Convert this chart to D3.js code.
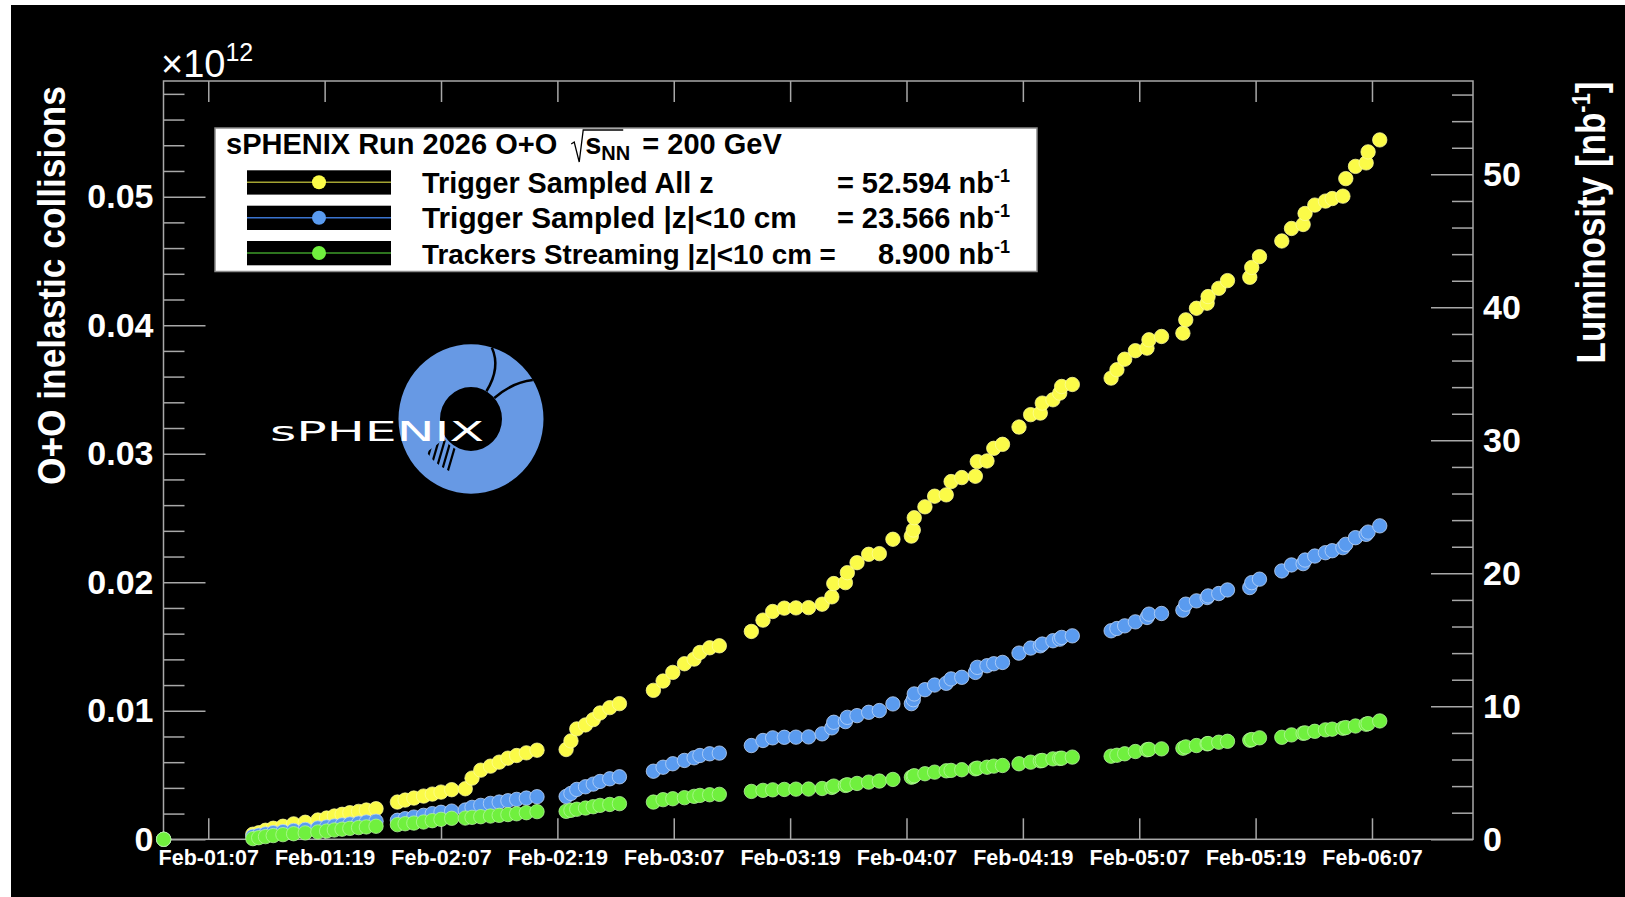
<!DOCTYPE html>
<meta charset="utf-8">
<script src="https://cdn.jsdelivr.net/npm/d3@7"></script>
<style>
  body { margin: 0; background: #fff; }
  svg text { font-family: "Liberation Sans", Arial, Helvetica, sans-serif; font-weight: bold; fill: #fff; }
</style>
<div id="vis"></div>
<script type="text/javascript">

// hours since 2026-02-01 00:00 (UTC), one entry per point, shared by all three series
var hours = [2.4,
  11.6, 12.2, 12.9, 13.7, 14.7, 15.8, 17.0,
  18.3, 19.2, 20.0, 20.8, 21.6, 22.5, 23.3, 24.3,
  26.5, 27.3, 28.2, 29.2, 30.1, 31.0, 32.1,
  33.5, 34.2, 35.1, 36.1, 37.0, 37.9, 38.8, 39.8, 40.9,
  43.9, 44.4, 45.0, 45.9, 46.7, 47.4, 48.4, 49.4,
  52.9, 53.9, 54.9, 56.1, 57.1, 57.7, 58.7, 59.7,
  63.0, 64.2, 65.2, 66.4, 67.6, 68.9, 70.3, 71.3, 71.5, 72.7, 72.9, 73.9, 75.1, 76.2, 77.6,
  79.5, 79.7, 79.8, 80.9, 81.9, 83.1, 83.6, 84.7, 86.1, 86.3, 87.3, 88.0, 88.9,
  90.6, 91.8, 92.8, 93.0, 94.1, 94.8, 95.0, 96.1,
  100.1, 100.7, 101.5, 102.6, 103.8, 104.0, 105.3,
  107.5, 107.8, 108.9, 110.0, 110.1, 111.2, 112.1,
  114.4, 114.6, 115.4,
  117.7, 118.7, 119.9, 120.1, 121.1, 122.2, 122.9, 124.0, 124.3, 125.3, 126.4, 126.6, 127.8];

// integrated luminosity [nb^-1]
var lumiAllZ = [0,
  0.38, 0.49, 0.68, 0.83, 0.98, 1.16, 1.28,
  1.45, 1.6, 1.75, 1.88, 2.0, 2.1, 2.2, 2.3,
  2.8, 2.95, 3.1, 3.25, 3.4, 3.55, 3.73,
  3.8, 4.6, 5.2, 5.5, 5.8, 6.1, 6.3, 6.5, 6.7,
  6.75, 7.4, 8.3, 8.6, 9.0, 9.5, 9.9, 10.2,
  11.2, 11.9, 12.55, 13.2, 13.55, 14.05, 14.4, 14.55,
  15.63, 16.48, 17.13, 17.38, 17.4, 17.42, 17.68, 18.23, 19.23, 19.3, 20.05, 20.8, 21.43, 21.48, 22.56,
  22.8, 23.26, 24.18, 25.0, 25.8, 25.9, 26.9, 27.2, 27.3, 28.4, 28.45, 29.4, 29.7,
  31.0, 31.93, 32.05, 32.8, 33.05, 33.55, 34.05, 34.2,
  34.68, 35.31, 36.1, 36.74, 36.93, 37.56, 37.81,
  38.06, 39.06, 39.93, 40.31, 40.81, 41.43, 42.01,
  42.26, 43.0, 43.81,
  44.99, 45.93, 46.23, 47.06, 47.69, 47.99, 48.18, 48.36, 49.68, 50.6, 50.86, 51.69, 52.59];

var lumiZ10 = [0,
  0.22, 0.3, 0.4, 0.5, 0.58, 0.66, 0.74,
  0.85, 0.93, 1.0, 1.08, 1.15, 1.22, 1.3, 1.36,
  1.43, 1.55, 1.67, 1.8, 1.93, 2.03, 2.12,
  2.2, 2.4, 2.55, 2.7, 2.8, 2.9, 3.0, 3.1, 3.2,
  3.22, 3.45, 3.75, 3.95, 4.15, 4.35, 4.55, 4.7,
  5.12, 5.42, 5.68, 5.93, 6.13, 6.3, 6.43, 6.48,
  7.05, 7.43, 7.63, 7.67, 7.68, 7.7, 7.93, 8.38, 8.8, 8.85, 9.17, 9.3, 9.55, 9.68, 10.18,
  10.2, 10.5, 10.93, 11.25, 11.6, 11.73, 12.06, 12.18, 12.55, 12.93, 13.05, 13.2, 13.3,
  14.0, 14.38, 14.55, 14.68, 14.93, 15.05, 15.18, 15.3,
  15.68, 15.85, 16.05, 16.35, 16.68, 16.93, 16.98,
  17.23, 17.68, 17.93, 18.18, 18.3, 18.48, 18.75,
  18.93, 19.3, 19.56,
  20.18, 20.63, 20.73, 21.0, 21.3, 21.55, 21.7, 21.93, 22.18, 22.68, 22.93, 23.1, 23.57];

var lumiTrackers = [0,
  0.05, 0.12, 0.2, 0.28, 0.35, 0.42, 0.48,
  0.55, 0.62, 0.7, 0.76, 0.82, 0.88, 0.93, 0.98,
  1.1, 1.17, 1.22, 1.3, 1.4, 1.5, 1.58,
  1.6, 1.65, 1.7, 1.75, 1.8, 1.86, 1.92, 2.0, 2.08,
  2.1, 2.18, 2.26, 2.35, 2.45, 2.55, 2.62, 2.68,
  2.8, 2.98, 3.05, 3.13, 3.23, 3.3, 3.35, 3.38,
  3.6, 3.68, 3.72, 3.75, 3.77, 3.78, 3.82, 3.9, 4.0, 4.05, 4.1, 4.2, 4.3, 4.38, 4.5,
  4.67, 4.72, 4.78, 4.93, 5.05, 5.15, 5.18, 5.23, 5.3, 5.35, 5.42, 5.5, 5.55,
  5.68, 5.8, 5.9, 5.93, 6.05, 6.08, 6.1, 6.18,
  6.25, 6.32, 6.43, 6.6, 6.73, 6.76, 6.8,
  6.85, 6.95, 7.05, 7.18, 7.2, 7.3, 7.37,
  7.45, 7.5, 7.63,
  7.67, 7.85, 7.97, 8.0, 8.12, 8.23, 8.28, 8.35, 8.4, 8.52, 8.65, 8.7, 8.9];

// the third label carries its own "=" as in the original legend
var seriesLabels = ["Trigger Sampled All z", "Trigger Sampled |z|<10 cm", "Trackers Streaming |z|<10 cm ="];
var seriesTotals = ["52.594", "23.566", "8.900"];
var seriesColors = ["#fbfb48", "#5a9bef", "#70f03e"];
var seriesRings = ["#fdfd9a", "#c0d8fa", "#b6f89c"];
var legendLineColors = ["#a3a332", "#3a74d0", "#3e9d2a"];

var xTickLabels = ["Feb-01:07", "Feb-01:19", "Feb-02:07", "Feb-02:19", "Feb-03:07", "Feb-03:19",
                   "Feb-04:07", "Feb-04:19", "Feb-05:07", "Feb-05:19", "Feb-06:07"];
var leftTicks = [0, 0.01, 0.02, 0.03, 0.04, 0.05];
var rightTicks = [0, 10, 20, 30, 40, 50];
var xDomain = ["2026-02-01T02:23", "2026-02-06T17:25"];
var lumiMax = 57.02;        // right axis top
var collisionsMax = 0.0590; // left axis top (x 10^12)

var W = 1625, H = 897;
var frame = {left: 163.5, top: 81, right: 1473, bottom: 839.3};
var axisColor = "#a8a8a8";

var t0 = Date.UTC(2026, 1, 1);
var toDate = h => new Date(t0 + h * 3600e3);
var parseIso = d3.utcParse("%Y-%m-%dT%H:%M");
var parseTick = d3.utcParse("%Y %b-%d:%H");

var svg = d3.select("#vis").append("svg")
    .attr("width", W)
    .attr("height", H);

svg.append("rect").attr("width", W).attr("height", H).attr("fill", "#fff");
svg.append("rect").attr("x", 11).attr("y", 5).attr("width", W - 11).attr("height", H - 5).attr("fill", "#000");

var x = d3.scaleUtc()
    .domain(xDomain.map(parseIso))
    .range([frame.left, frame.right]);

var yR = d3.scaleLinear().domain([0, lumiMax]).range([frame.bottom, frame.top]);
var yL = d3.scaleLinear().domain([0, collisionsMax]).range([frame.bottom, frame.top]);

var tickDates = xTickLabels.map(s => parseTick("2026 " + s));

function styleAxis(g) {
  g.select(".domain").remove();
  g.selectAll(".tick line").attr("stroke", axisColor).attr("stroke-width", 1.5);
}

// bottom axis
svg.append("g")
    .attr("transform", "translate(0," + frame.bottom + ")")
    .call(d3.axisBottom(x).tickValues(tickDates).tickSize(-21).tickPadding(10)
      .tickFormat((d, i) => xTickLabels[i]))
    .call(styleAxis)
    .call(g => g.selectAll("text").attr("fill", "#fff").attr("font-size", 21.5)
      .attr("dy", null).attr("y", 26));

// top axis (ticks only)
svg.append("g")
    .attr("transform", "translate(0," + frame.top + ")")
    .call(d3.axisTop(x).tickValues(tickDates).tickSize(-21).tickFormat(""))
    .call(styleAxis);

// left axis
var minorL = d3.range(1, 30).map(i => i * 0.002).filter(v => Math.abs(v * 100 - Math.round(v * 100)) > 1e-6);
svg.append("g")
    .attr("transform", "translate(" + frame.left + ",0)")
    .call(d3.axisLeft(yL).tickValues(minorL).tickSize(-21).tickFormat(""))
    .call(styleAxis);
svg.append("g")
    .attr("transform", "translate(" + frame.left + ",0)")
    .call(d3.axisLeft(yL).tickValues(leftTicks).tickSize(-42).tickPadding(10)
      .tickFormat(d => d === 0 ? "0" : d3.format(".2f")(d)))
    .call(styleAxis)
    .call(g => g.selectAll("text").attr("fill", "#fff").attr("font-size", 34));

// right axis
var minorR = d3.range(2, 57, 2).filter(v => v % 10 !== 0);
svg.append("g")
    .attr("transform", "translate(" + frame.right + ",0)")
    .call(d3.axisRight(yR).tickValues(minorR).tickSize(-21).tickFormat(""))
    .call(styleAxis);
svg.append("g")
    .attr("transform", "translate(" + frame.right + ",0)")
    .call(d3.axisRight(yR).tickValues(rightTicks).tickSize(-42).tickPadding(10))
    .call(styleAxis)
    .call(g => g.selectAll("text").attr("fill", "#fff").attr("font-size", 34));

// frame
svg.append("rect")
    .attr("x", frame.left).attr("y", frame.top)
    .attr("width", frame.right - frame.left).attr("height", frame.bottom - frame.top)
    .attr("fill", "none").attr("stroke", axisColor).attr("stroke-width", 1.5);

// x10^12
var expo = svg.append("text").attr("x", 161).attr("y", 77)
    .attr("font-size", 38).style("font-weight", "normal");
expo.append("tspan").text("\u00d710");
expo.append("tspan").attr("font-size", 25).attr("dy", -16).text("12");

// axis titles
svg.append("text")
    .attr("transform", "translate(65,285.5) rotate(-90)")
    .attr("text-anchor", "middle")
    .attr("font-size", 39)
    .attr("textLength", 399).attr("lengthAdjust", "spacingAndGlyphs")
    .text("O+O inelastic collisions");

var rt = svg.append("text")
    .attr("transform", "translate(1605,222.5) rotate(-90)")
    .attr("text-anchor", "middle")
    .attr("font-size", 40);
rt.append("tspan").text("Luminosity [nb");
rt.append("tspan").attr("font-size", 25).attr("dy", -15).text("-1");
rt.append("tspan").attr("dy", 15).text("]");
(function() {
  var len = rt.node().getComputedTextLength();
  var s = 282 / len;
  rt.attr("transform", "translate(1605,222.5) rotate(-90) scale(" + s + ",1)");
})();

// logo
var logo = svg.append("g").attr("transform", "translate(471,419) scale(1,1.03)");
var ringOuter = 72.5, ringInner = 31;
logo.append("path")
    .attr("d", d3.arc()({innerRadius: ringInner, outerRadius: ringOuter, startAngle: 0, endAngle: 2 * Math.PI}))
    .attr("fill", "#6799e4");
// cuts in upper right
logo.append("path")
    .attr("d", "M" + [ringInner * Math.cos(-1.05), ringInner * Math.sin(-1.05)] +
      "Q" + [30, -50] + " " + [ringOuter * Math.cos(-1.28), ringOuter * Math.sin(-1.28)])
    .attr("fill", "none").attr("stroke", "#000").attr("stroke-width", 2.5);
logo.append("path")
    .attr("d", "M" + [ringInner * Math.cos(-0.72), ringInner * Math.sin(-0.72)] +
      "Q" + [42, -36] + " " + [ringOuter * Math.cos(-0.55), ringOuter * Math.sin(-0.55)])
    .attr("fill", "none").attr("stroke", "#000").attr("stroke-width", 2.5);
// hatching lower left
logo.append("clipPath").attr("id", "hatchclip")
  .append("path")
    .attr("d", d3.arc()({innerRadius: ringInner + 2, outerRadius: ringInner + 24,
      startAngle: Math.PI * 1.08, endAngle: Math.PI * 1.3}));
logo.append("g").attr("clip-path", "url(#hatchclip)")
  .selectAll("line").data(d3.range(7)).enter().append("line")
    .attr("x1", d => -62 + d * 6).attr("y1", 60)
    .attr("x2", d => -50 + d * 6).attr("y2", 20)
    .attr("stroke", "#000").attr("stroke-width", 2.2);
svg.append("text")
    .attr("x", 270).attr("y", 441)
    .attr("font-size", 27)
    .attr("textLength", 214).attr("lengthAdjust", "spacingAndGlyphs")
    .style("font-family", "'DejaVu Sans', Verdana, sans-serif")
    .style("font-weight", "normal")
    .text("sPHENIX");

// data points
var series = [lumiAllZ, lumiZ10, lumiTrackers];
series.forEach((vals, k) => {
  svg.append("g").selectAll("circle").data(d3.zip(hours, vals))
    .enter().append("circle")
      .attr("cx", d => x(toDate(d[0])))
      .attr("cy", d => yR(d[1]))
      .attr("r", 7.2)
      .attr("fill", seriesColors[k])
      .attr("stroke", seriesRings[k])
      .attr("stroke-width", 0.9)
      .attr("stroke-opacity", 0.85);
});

// legend
var lg = svg.append("g");
lg.append("rect")
    .attr("x", 215).attr("y", 128).attr("width", 822).attr("height", 143.5)
    .attr("fill", "#fff").attr("stroke", "#8a8a8a").attr("stroke-width", 1.5);

var fs = 29;
var title = lg.append("text").attr("x", 226).attr("y", 153.5).attr("font-size", fs).style("fill", "#000")
    .text("sPHENIX Run 2026 O+O");
var rx = 226 + title.node().getComputedTextLength() + 14;
lg.append("path")
    .attr("d", "M" + [rx, 144] + "L" + [rx + 3, 142] + "L" + [rx + 8, 162] + "L" + [rx + 12, 130] + "L" + [rx + 52, 130])
    .attr("fill", "none").attr("stroke", "#000").attr("stroke-width", 1.3);
var sq = lg.append("text").attr("x", rx + 14).attr("y", 153.5).attr("font-size", fs).style("fill", "#000");
sq.append("tspan").text("s");
sq.append("tspan").attr("font-size", 20).attr("dy", 6).text("NN");
sq.append("tspan").attr("dy", -6).attr("dx", 4).text(" = 200 GeV");

var rowY = [182.3, 217.7, 253];
var labelLen = [292, 375, 414];
rowY.forEach((cy, k) => {
  lg.append("rect").attr("x", 247).attr("y", cy - 12).attr("width", 144).attr("height", 24.3).attr("fill", "#000");
  lg.append("line").attr("x1", 247).attr("x2", 391).attr("y1", cy).attr("y2", cy)
      .attr("stroke", legendLineColors[k]).attr("stroke-width", 1.5);
  lg.append("circle").attr("cx", 319).attr("cy", cy).attr("r", 7).attr("fill", seriesColors[k]);
  var lab = lg.append("text").attr("x", 422).attr("y", cy + 10.5).attr("font-size", fs).style("fill", "#000")
      .text(seriesLabels[k]);
  // fit the label to its width in the original by adjusting the font size
  var natural = lab.node().getComputedTextLength();
  lab.attr("font-size", fs * labelLen[k] / natural);
  var v = lg.append("text").attr("x", 1010).attr("y", cy + 10.5).attr("font-size", fs)
      .attr("text-anchor", "end").style("fill", "#000");
  v.append("tspan").text(seriesTotals[k] + " nb");
  v.append("tspan").attr("font-size", 18).attr("dy", -11).text("-1");
  if (k < 2) {
    lg.append("text").attr("x", 837).attr("y", cy + 10.5).attr("font-size", fs)
        .style("fill", "#000").text("=");
  }
});

</script>
